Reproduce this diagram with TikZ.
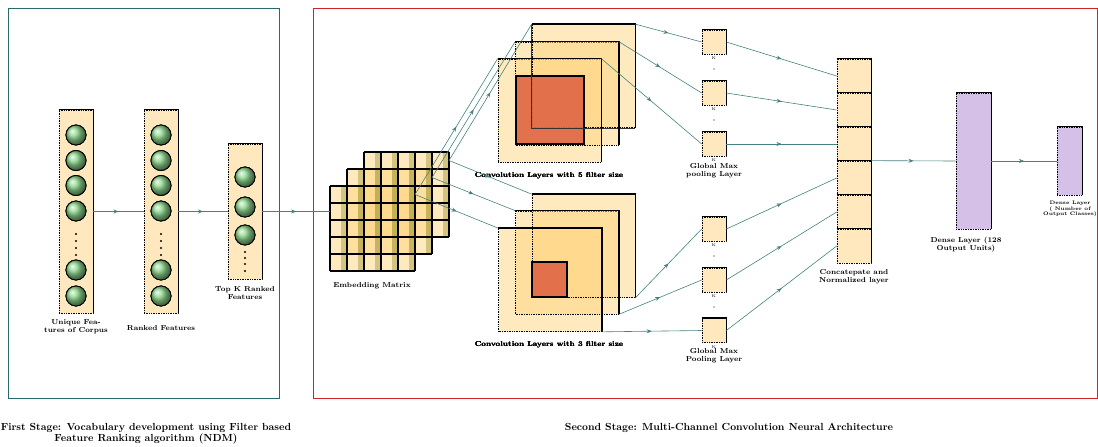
\documentclass[tikz,border=0pt]{standalone}
\usetikzlibrary{positioning,arrows.meta,decorations.markings}
\definecolor{pale}{RGB}{255,232,190}
\definecolor{convfill}{RGB}{255,212,125}
\definecolor{olive}{RGB}{160,150,50}
\definecolor{redfill}{RGB}{224,104,70}
\definecolor{purplefill}{RGB}{213,192,232}
\definecolor{ballgreen}{RGB}{140,215,140}
\definecolor{flowc}{RGB}{70,128,128}
\definecolor{stageone}{RGB}{40,105,105}
\definecolor{stagetwo}{RGB}{205,35,35}
\newcommand\lblfont{\fontsize{7.2}{7.8}\selectfont\bfseries}
\newcommand\topright[1]{\draw[line width=1.4pt] (#1.north west) -- (#1.north east) -- (#1.south east);}

\begin{document}
\begin{tikzpicture}[x=1pt,y=-1pt,
  box/.style={draw=black,densely dotted,line width=0.7pt,fill=pale,inner sep=0},
  ball/.style={circle,draw=black,line width=0.8pt,ball color=ballgreen,minimum size=20,inner sep=0},
  flow/.style={color=flowc,line width=0.6pt,postaction={decorate},
    decoration={markings,mark=at position 0.5 with {\arrow{Stealth[length=5pt,width=4pt]}}}},
  lbl/.style={font=\lblfont,align=center,inner sep=0}]
\useasboundingbox (0,0) rectangle (1098,447);
\def\cell{17}

\draw[stageone,line width=0.8pt] (8,8) rectangle (279,398);
\draw[stagetwo,line width=0.8pt] (313,8) rectangle (1097,398);

\node[box,minimum width=34,minimum height=203] (uf) at (76,211.5) {};
\node[box,minimum width=34,minimum height=203] (rf) at (161,211.5) {};
\node[box,minimum width=34,minimum height=135] (tk) at (245,211.5) {};
\foreach \c in {uf,rf,tk}
	\topright{\c}
\foreach \y [count=\i] in {135,160.5,185.5,211,270,296}{
	\node[ball] (uf\i) at (76,\y) {};
	\node[ball] (rf\i) at (161,\y) {};
}
\foreach \y [count=\i] in {177,207,235}
	\node[ball] (tk\i) at (245,\y) {};
\foreach \y in {234,241,248,255}{
	\fill (76,\y) circle (1.1);
	\fill (161,\y) circle (1.1);
}
\foreach \y in {252,258,264,271}
	\fill (245,\y) circle (1.1);

\node[lbl,below=6pt of uf] {Unique Fea-\\tures of Corpus};
\node[lbl,below=12pt of rf] {Ranked Features};
\node[lbl,below=7pt of tk] {Top K Ranked\\Features};

\foreach \g in {2,1,0}{
	\foreach \i in {0,...,4}
	\foreach \j in {0,...,4}{
		\fill[convfill,fill opacity=0.5] (330+\cell*\g+\cell*\i,186-\cell*\g+\cell*\j) rectangle +(\cell,\cell);
		\fill[olive,fill opacity=0.45] (341+\cell*\g+\cell*\i,186-\cell*\g+\cell*\j) rectangle +(6,\cell);
	}
	\foreach \k in {0,...,5}{
		\draw[line width=1.1pt] (330+\cell*\g+\cell*\k,186-\cell*\g) -- +(0,85);
		\draw[line width=1.1pt] (330+\cell*\g,186-\cell*\g+\cell*\k) -- +(85,0);
	}
}
\coordinate (emb) at (330,211.5);
\coordinate (e0) at (449,160.5);
\coordinate (e1) at (432,177.5);
\coordinate (e2) at (415,194.5);
\node[lbl] at (372,286) {Embedding Matrix};

\node[box,fill=convfill,fill opacity=0.5,minimum size=103] (p5c) at (549.5,110.5) {};
\node[box,fill=convfill,fill opacity=0.5,minimum size=103] (p5b) at (567,93.5) {};
\node[box,fill=convfill,fill opacity=0.5,minimum size=103] (p5a) at (583.5,76) {};
\node[box,solid,fill=redfill,fill opacity=0.92,line width=1.3pt,minimum size=68] (p5k) at (550,110) {};
\draw[line width=0.7pt,black!80] (p5a.north west) -- (p5a.south west) -- (p5a.south east);
\foreach \c in {p5c,p5b,p5a}
	\topright{\c}
\node[lbl] at (549,176) {Convolution Layers with 5 filter size};

\node[box,fill=convfill,fill opacity=0.5,minimum size=103] (p3c) at (550,280) {};
\node[box,fill=convfill,fill opacity=0.5,minimum size=103] (p3b) at (567,262.5) {};
\node[box,fill=convfill,fill opacity=0.5,minimum size=103] (p3a) at (583.5,246) {};
\node[box,solid,fill=redfill,fill opacity=0.92,line width=1.3pt,minimum size=35] (p3k) at (549.5,279.5) {};
\foreach \c in {p3c,p3b,p3a}
	\topright{\c}
\node[lbl] at (549,345) {Convolution Layers with 3 filter size};

\foreach \a/\b in {uf/rf,rf/tk,tk/emb}
	\draw[flow] (\a) -- (\b);
\foreach \a/\b in {e0/p5a.north west,e1/p5b.north west,e2/p5c.north west,e0/p3a.north west,e1/p3b.north west,e2/p3c.north west}
	\draw[flow] (\a) -- (\b);

\foreach \y [count=\i] in {42,93,144,229,280,330.5}{
	\node[box,minimum size=24] (q\i) at (714,\y) {};
	\topright{q\i}
	\node[font=\fontsize{4}{4}\selectfont,inner sep=0,below=2.5pt of q\i] {K};
}
\foreach \y in {69,120,256,307}
	\fill (714,\y) circle (0.7);
\node[lbl] at (714,171) {Global Max\\pooling Layer};
\node[lbl] at (714,356) {Global Max\\Pooling Layer};

\foreach \a/\b in {p5a.north east/q1,p5b.north east/q2,p5c.north east/q3,p3a.south east/q4,p3b.south east/q5,p3c.south east/q6}
	\draw[flow] (\a) -- (\b.west);

\foreach \y [count=\i] in {76,110,144,178,212,246}{
	\node[box,minimum size=34] (cat\i) at (854,\y) {};
	\topright{cat\i}
}
\node[lbl] at (854,277) {Concatepate and\\Normalized layer};
\foreach \i in {1,...,6}
	\draw[flow] (q\i.east) -- (cat\i.west);

\node[box,fill=purplefill,minimum width=35,minimum height=136] (d1) at (973.5,161) {};
\node[box,fill=purplefill,minimum width=25,minimum height=68] (d2) at (1069.5,161) {};
\topright{d1}
\topright{d2}
\node[lbl] at (966,245) {Dense Layer (128\\Output Units)};
\node[lbl,font=\fontsize{5}{5.8}\selectfont\bfseries] at (1070,209) {Dense Layer\\( Number of\\Output Classes)};
\draw[flow] (cat4.north east) -- (d1.west);
\draw[flow] (d1) -- (d2);

\node[font=\fontsize{10.3}{11}\selectfont\bfseries,align=center,inner sep=0] at (146,433.5) {First Stage: Vocabulary development using Filter based\\Feature Ranking algorithm (NDM)};
\node[font=\fontsize{10.3}{11}\selectfont\bfseries,inner sep=0] at (729,428) {Second Stage: Multi-Channel Convolution Neural Architecture};
\end{tikzpicture}
\end{document}
